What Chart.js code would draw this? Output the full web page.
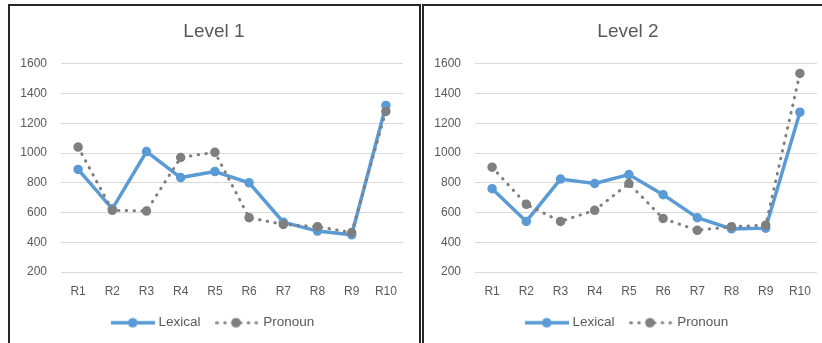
<!DOCTYPE html>
<html>
<head>
<meta charset="utf-8">
<script src="https://cdn.jsdelivr.net/npm/chart.js@4/dist/chart.umd.min.js"></script>
<style>
  html, body { margin: 0; padding: 0; background: #ffffff; overflow: hidden; }
  body { width: 822px; height: 343px; position: relative; }
  .panel {
    position: absolute; top: 4px; height: 360px;
    border: 2px solid #262626; box-sizing: border-box; background: #fff;
  }
  #panel1 { left: 8px; width: 413px; }
  #panel2 { left: 422px; width: 413px; }
  .panel canvas { position: absolute; left: 0; top: 0; }
</style>
</head>
<body>
<div class="panel" id="panel1"><canvas id="chart1" width="409" height="337"></canvas></div>
<div class="panel" id="panel2"><canvas id="chart2" width="409" height="337"></canvas></div>
<script>
// Rounds shown along the x axis
const categories = ['R1', 'R2', 'R3', 'R4', 'R5', 'R6', 'R7', 'R8', 'R9', 'R10'];

// Level 1 series
const level1Lexical = [890, 625, 1010, 835, 875, 800, 535, 475, 450, 1320];
const level1Pronoun = [1040, 615, 610, 970, 1005, 565, 520, 505, 465, 1280];

// Level 2 series
const level2Lexical = [760, 540, 825, 795, 855, 720, 565, 490, 495, 1275];
const level2Pronoun = [905, 655, 540, 615, 795, 560, 480, 505, 515, 1535];

// Value axis range
const yMin = 200;
const yMax = 1600;
const yStep = 200;

const seriesNames = ['Lexical', 'Pronoun'];

const BLUE = '#5B9BD5';
const GRAY = '#7F7F7F';
const TEXT = '#595959';
const GRID = '#D9D9D9';
const FONT = "'Liberation Sans', Arial, sans-serif";

// Legend swatches: a short line sample with the marker in its middle
function lineSwatch(color, dotted) {
  const c = document.createElement('canvas');
  c.width = 44; c.height = 12;
  const g = c.getContext('2d');
  g.strokeStyle = color;
  g.fillStyle = color;
  g.lineCap = 'round';
  if (dotted) {
    g.lineWidth = 3;
    g.setLineDash([0.5, 7.3]);
    g.beginPath(); g.moveTo(1.5, 6); g.lineTo(43, 6); g.stroke();
    g.setLineDash([]);
    g.beginPath(); g.arc(20.5, 6, 4.8, 0, Math.PI * 2); g.fill();
  } else {
    g.lineWidth = 3.5;
    g.lineCap = 'butt';
    g.beginPath(); g.moveTo(0, 6); g.lineTo(44, 6); g.stroke();
    g.beginPath(); g.arc(22, 6, 4.8, 0, Math.PI * 2); g.fill();
  }
  return c;
}
const swatches = [lineSwatch(BLUE, false), lineSwatch(GRAY, true)];

// Let the value labels use the space left of the axis box
const widenLabelArea = {
  id: 'widenLabelArea',
  afterLayout(chart) { chart.scales.y.left = 0; }
};

function makeChart(id, title, lexical, pronoun) {
  return new Chart(document.getElementById(id), {
    type: 'line',
    data: {
      labels: categories,
      datasets: [
        {
          label: seriesNames[0],
          data: lexical,
          borderColor: BLUE,
          backgroundColor: BLUE,
          borderWidth: 3.5,
          pointRadius: 4,
          pointBorderWidth: 1.5,
          pointBackgroundColor: BLUE,
          pointBorderColor: BLUE,
          tension: 0,
          order: 2
        },
        {
          label: seriesNames[1],
          data: pronoun,
          borderColor: GRAY,
          backgroundColor: GRAY,
          borderWidth: 3,
          borderDash: [0.5, 7.3],
          borderCapStyle: 'round',
          pointRadius: 4,
          pointBorderWidth: 1.5,
          pointBackgroundColor: GRAY,
          pointBorderColor: GRAY,
          tension: 0,
          order: 1
        }
      ]
    },
    options: {
      responsive: false,
      animation: false,
      devicePixelRatio: 1,
      layout: { padding: { left: 15, right: 16, top: 0, bottom: 3.5 } },
      plugins: {
        title: {
          display: true,
          text: title,
          color: TEXT,
          font: { family: FONT, size: 19, weight: 'normal' },
          padding: { top: 14, bottom: 21 }
        },
        legend: {
          position: 'bottom',
          labels: {
            usePointStyle: true,
            pointStyleWidth: 38,
            padding: 18,
            color: TEXT,
            font: { family: FONT, size: 13.5 },
            sort: (a, b) => a.datasetIndex - b.datasetIndex,
            generateLabels: (chart) => {
              const items = Chart.defaults.plugins.legend.labels.generateLabels(chart);
              items.forEach((it) => { it.pointStyle = swatches[it.datasetIndex]; });
              return items;
            }
          }
        },
        tooltip: { enabled: false }
      },
      scales: {
        x: {
          offset: true,
          afterFit: (s) => { s.height = 26; },
          grid: { display: false, drawTicks: false },
          border: { display: false },
          ticks: { color: TEXT, font: { family: FONT, size: 12 }, padding: 12, maxRotation: 0 }
        },
        y: {
          min: yMin,
          max: yMax,
          afterFit: (s) => { s.width = 36; },
          grid: { color: GRID, lineWidth: 1, drawTicks: false },
          border: { display: false },
          ticks: {
            stepSize: yStep,
            color: TEXT,
            font: { family: FONT, size: 12 },
            padding: 14,
            callback: (v) => String(v)
          }
        }
      }
    },
    plugins: [widenLabelArea]
  });
}

makeChart('chart1', 'Level 1', level1Lexical, level1Pronoun);
makeChart('chart2', 'Level 2', level2Lexical, level2Pronoun);
</script>
</body>
</html>
